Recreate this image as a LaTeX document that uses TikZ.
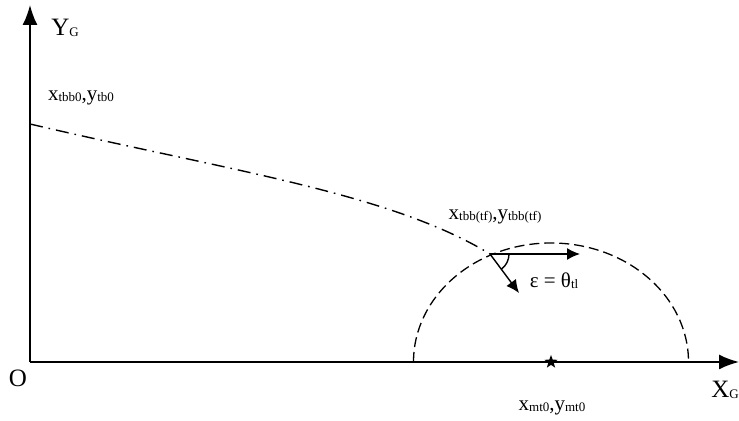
\documentclass[tikz,border=0pt]{standalone}
\usepackage{fontspec}
\setmainfont{Liberation Serif}
\usetikzlibrary{arrows.meta,shapes.geometric}

\newcommand{\lo}[1]{\raisebox{-0.08ex}{\fontsize{6.5}{7}\selectfont #1}}

\begin{document}
\begin{tikzpicture}[x=0.5pt, y=0.5pt, >={Latex[length=6.5pt,width=6pt]},
  axis/.style={line width=0.9pt, -{Latex[length=10pt,width=7.5pt]}},
  vec/.style={line width=0.7pt, ->},
  lab/.style={font=\fontsize{10.5}{12}\selectfont, inner sep=0pt},
  big/.style={font=\fontsize{12.5}{14}\selectfont, inner sep=0pt}]

\useasboundingbox (0,0) rectangle (739,421);

% Axes
\coordinate (O) at (30,59);
\coordinate (ytip) at (30,416);
\coordinate (xtip) at (739,59);
\draw[axis] (O) -- (ytip);
\draw[axis] (O) -- (xtip);

\node[big] (o) at (18,43) {O};
\node[big] (yg) at (65,393) {Y\lo{G}};
\node[big] (xg) at (725,31) {X\lo{G}};

% Trajectory: start point to point P
\coordinate (S) at (30,297);
\coordinate (P) at (490,167);
\draw[line width=0.7pt, dash pattern=on 6.5pt off 3pt on 0.8pt off 3pt]
  (S) .. controls (230,250) and (390,228) .. (P);

% Dashed half ellipse round M
\node[star, star points=5, star point ratio=2.4, fill, inner sep=0pt,
  minimum size=7pt] (M) at (551,59) {};
\draw[line width=0.65pt, dash pattern=on 5pt off 2.5pt]
  (M) ++(-137.5,0) arc[start angle=180, end angle=0, x radius=137.5, y radius=119];

% Velocity vectors at P
\coordinate (Ph) at (580,167);
\coordinate (Pv) at (519,128);
\draw[vec] (P) -- (Ph);
\draw[vec] (P) -- (Pv);
\draw[line width=0.7pt] (P) ++(19,0) arc[start angle=0, end angle=-53, radius=19];

% Labels
\node[lab] (p0) at (81,323) {x\lo{tbb0},y\lo{tb0}};
\node[lab] (pf) at (495,204) {x\lo{tbb(tf)},y\lo{tbb(tf)}};
\node[lab] (mt) at (552,13) {x\lo{mt0},y\lo{mt0}};
\node[lab] (eps) at (554,140) {ε = θ\lo{tl}};

\end{tikzpicture}
\end{document}
